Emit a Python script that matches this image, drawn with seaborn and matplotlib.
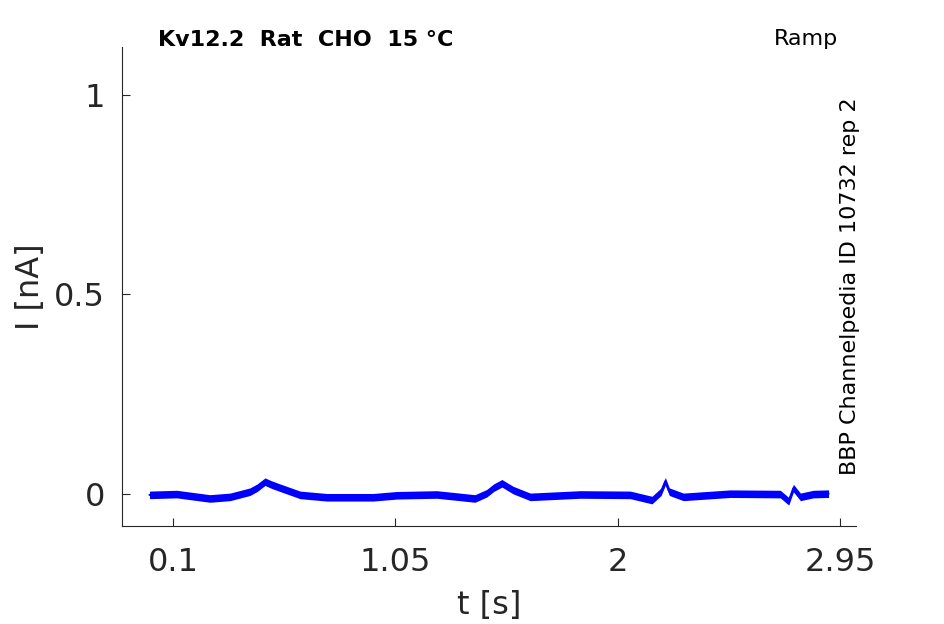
import pandas as pd
import matplotlib
matplotlib.use("Agg")
import matplotlib.pyplot as plt
import seaborn as sns

# trace (centre of the noisy band)
t_s = [0.0, 0.116, 0.258, 0.344, 0.429, 0.46, 0.493, 0.52, 0.557, 0.643,
       0.757, 0.955, 1.056, 1.227, 1.39, 1.44, 1.47, 1.505, 1.553, 1.626,
       1.84, 2.053, 2.146, 2.185, 2.203, 2.22, 2.28, 2.48, 2.694, 2.73,
       2.75, 2.78, 2.835, 2.9]
i_nA = [-0.002, 0.0, -0.011, -0.007, 0.006, 0.016, 0.031, 0.024, 0.016, -0.002,
        -0.008, -0.008, -0.003, -0.001, -0.011, 0.002, 0.016, 0.027, 0.01, -0.007,
        -0.001, -0.002, -0.015, 0.006, 0.032, 0.006, -0.007, 0.001, 0.0, -0.018,
        0.015, -0.007, 0.0, 0.001]
noise_half = 0.0095

x_ticks = [0.1, 1.05, 2, 2.95]
x_ticklabels = ["0.1", "1.05", "2", "2.95"]
y_ticks = [0, 0.5, 1]
y_ticklabels = ["0", "0.5", "1"]

df = pd.DataFrame({"t": t_s, "i": i_nA})

sns.set_theme(style="ticks")
plt.rcParams["font.family"] = ["DejaVu Sans"]

fig = plt.figure(figsize=(9.45, 6.24), dpi=100)
ax = fig.add_axes([0.129, 0.157, 0.777, 0.768])

# noisy recording drawn as a band round the centre trace
ax.fill_between(df["t"], df["i"] - noise_half, df["i"] + noise_half,
                color="#0000ff", linewidth=0)
sns.lineplot(data=df, x="t", y="i", ax=ax, color="#0000ff", linewidth=1.5)

ax.set_xlim(-0.118, 3.018)
ax.set_ylim(-0.08, 1.12)
ax.set_xticks(x_ticks)
ax.set_xticklabels(x_ticklabels)
ax.set_yticks(y_ticks)
ax.set_yticklabels(y_ticklabels)
ax.tick_params(direction="in", length=6, width=0.8, labelsize=23,
               colors="#262626")
ax.tick_params(axis="x", pad=15)
ax.tick_params(axis="y", pad=12)
ax.set_xlabel("t [s]", fontsize=23, color="#262626", labelpad=9)
ax.set_ylabel("I [nA]", fontsize=23, color="#262626", labelpad=6)

for side in ["top", "right"]:
    ax.spines[side].set_visible(False)
for side in ["left", "bottom"]:
    ax.spines[side].set_color("#262626")
    ax.spines[side].set_linewidth(0.8)

fig.text(158 / 945, 1 - 40 / 624, "Kv12.2  Rat  CHO  15 \u00b0C",
         fontsize=16, fontweight="bold", color="black", va="center", ha="left")
fig.text(838 / 945, 1 - 39 / 624, "Ramp", fontsize=16, color="black",
         va="center", ha="right")
fig.text(850 / 945, 1 - 286 / 624, "BBP Channelpedia ID 10732 rep 2",
         fontsize=16, color="black", rotation=90, va="center", ha="center")

fig.savefig("out.png", dpi=100)
